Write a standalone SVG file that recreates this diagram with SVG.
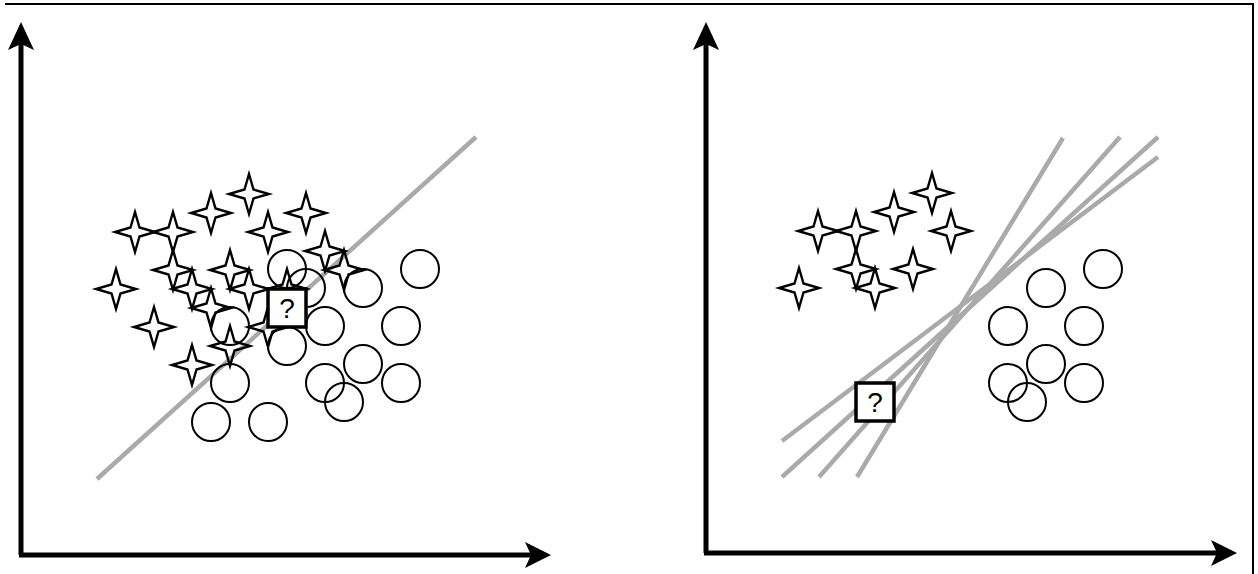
<svg xmlns="http://www.w3.org/2000/svg" width="1258" height="574" viewBox="0 0 1258 574">
<defs>
<style>
.frame{fill:none;stroke:#000;stroke-width:2}
.axis{fill:none;stroke:#000;stroke-width:5}
.head{fill:#000;stroke:none}
.sep{fill:none;stroke:#aaaaaa;stroke-width:4.5;stroke-linecap:butt}
.star{fill:none;stroke:#000;stroke-width:2.4;stroke-linejoin:miter}
.circ{fill:none;stroke:#000;stroke-width:2}
.qbox{fill:#fff;stroke:#000;stroke-width:3.5}
</style>
<path id="st" d="M0,-20 L4.5,-4.5 L20,0 L4.5,4.5 L0,20 L-4.5,4.5 L-20,0 L-4.5,-4.5 Z"/>
</defs>
<rect width="1258" height="574" fill="#fff"/>
<g id="frame">
<path class="frame" d="M5,4 H1253 V574"/>
</g>
<g id="connectors">
<path class="axis" d="M21,555 V44"/>
<path class="head" d="M21,22 L34,50 L21,44 L8,50 Z"/>
<path class="axis" d="M19,555 H531"/>
<path class="head" d="M551,555 L525,568 L531,555 L525,542 Z"/>
<path class="axis" d="M706,553 V44"/>
<path class="head" d="M706,22 L719,50 L706,44 L693,50 Z"/>
<path class="axis" d="M704,553 H1217"/>
<path class="head" d="M1237,553 L1211,566 L1217,553 L1211,540 Z"/>
<line class="sep" x1="97" y1="479" x2="476" y2="137"/>
<line class="sep" x1="857" y1="477" x2="1063" y2="138"/>
<line class="sep" x1="819" y1="477" x2="1120" y2="137"/>
<line class="sep" x1="782" y1="477" x2="1158" y2="137"/>
<line class="sep" x1="782" y1="441" x2="1158" y2="157"/>
</g>
<g id="left-stars">
<use href="#st" class="star" x="135" y="232"/>
<use href="#st" class="star" x="173" y="232"/>
<use href="#st" class="star" x="211" y="213"/>
<use href="#st" class="star" x="249" y="194"/>
<use href="#st" class="star" x="268" y="232"/>
<use href="#st" class="star" x="306" y="213"/>
<use href="#st" class="star" x="325" y="251"/>
<use href="#st" class="star" x="344" y="270"/>
<use href="#st" class="star" x="173" y="270"/>
<use href="#st" class="star" x="230" y="270"/>
<use href="#st" class="star" x="192" y="289"/>
<use href="#st" class="star" x="249" y="289"/>
<use href="#st" class="star" x="116" y="289"/>
<use href="#st" class="star" x="211" y="308"/>
<use href="#st" class="star" x="154" y="327"/>
<use href="#st" class="star" x="230" y="346"/>
<use href="#st" class="star" x="192" y="365"/>
<use href="#st" class="star" x="287" y="289"/>
<use href="#st" class="star" x="268" y="327"/>
</g>
<g id="left-circles">
<circle class="circ" cx="287" cy="269" r="19"/>
<circle class="circ" cx="306" cy="288" r="19"/>
<circle class="circ" cx="363" cy="288" r="19"/>
<circle class="circ" cx="420" cy="269" r="19"/>
<circle class="circ" cx="230" cy="326" r="19"/>
<circle class="circ" cx="325" cy="326" r="19"/>
<circle class="circ" cx="401" cy="326" r="19"/>
<circle class="circ" cx="287" cy="346" r="19"/>
<circle class="circ" cx="363" cy="364" r="19"/>
<circle class="circ" cx="230" cy="383" r="19"/>
<circle class="circ" cx="325" cy="383" r="19"/>
<circle class="circ" cx="401" cy="383" r="19"/>
<circle class="circ" cx="344" cy="402" r="19"/>
<circle class="circ" cx="211" cy="422" r="19"/>
<circle class="circ" cx="268" cy="422" r="19"/>
</g>
<g id="left-query">
<rect class="qbox" x="268" y="289" width="38" height="38"/>
<text x="287" y="318" font-family="Liberation Sans, Arial, sans-serif" font-size="28" fill="#000" text-anchor="middle">?</text>
</g>
<g id="right-stars">
<use href="#st" class="star" x="932" y="193"/>
<use href="#st" class="star" x="894" y="212"/>
<use href="#st" class="star" x="818" y="231"/>
<use href="#st" class="star" x="856" y="231"/>
<use href="#st" class="star" x="951" y="231"/>
<use href="#st" class="star" x="856" y="269"/>
<use href="#st" class="star" x="913" y="269"/>
<use href="#st" class="star" x="799" y="288"/>
<use href="#st" class="star" x="875" y="288"/>
</g>
<g id="right-circles">
<circle class="circ" cx="1103" cy="269" r="19"/>
<circle class="circ" cx="1046" cy="288" r="19"/>
<circle class="circ" cx="1008" cy="326" r="19"/>
<circle class="circ" cx="1084" cy="326" r="19"/>
<circle class="circ" cx="1046" cy="364" r="19"/>
<circle class="circ" cx="1008" cy="383" r="19"/>
<circle class="circ" cx="1084" cy="383" r="19"/>
<circle class="circ" cx="1027" cy="402" r="19"/>
</g>
<g id="right-query">
<rect class="qbox" x="856" y="383" width="38" height="38"/>
<text x="875" y="412" font-family="Liberation Sans, Arial, sans-serif" font-size="28" fill="#000" text-anchor="middle">?</text>
</g>
</svg>
